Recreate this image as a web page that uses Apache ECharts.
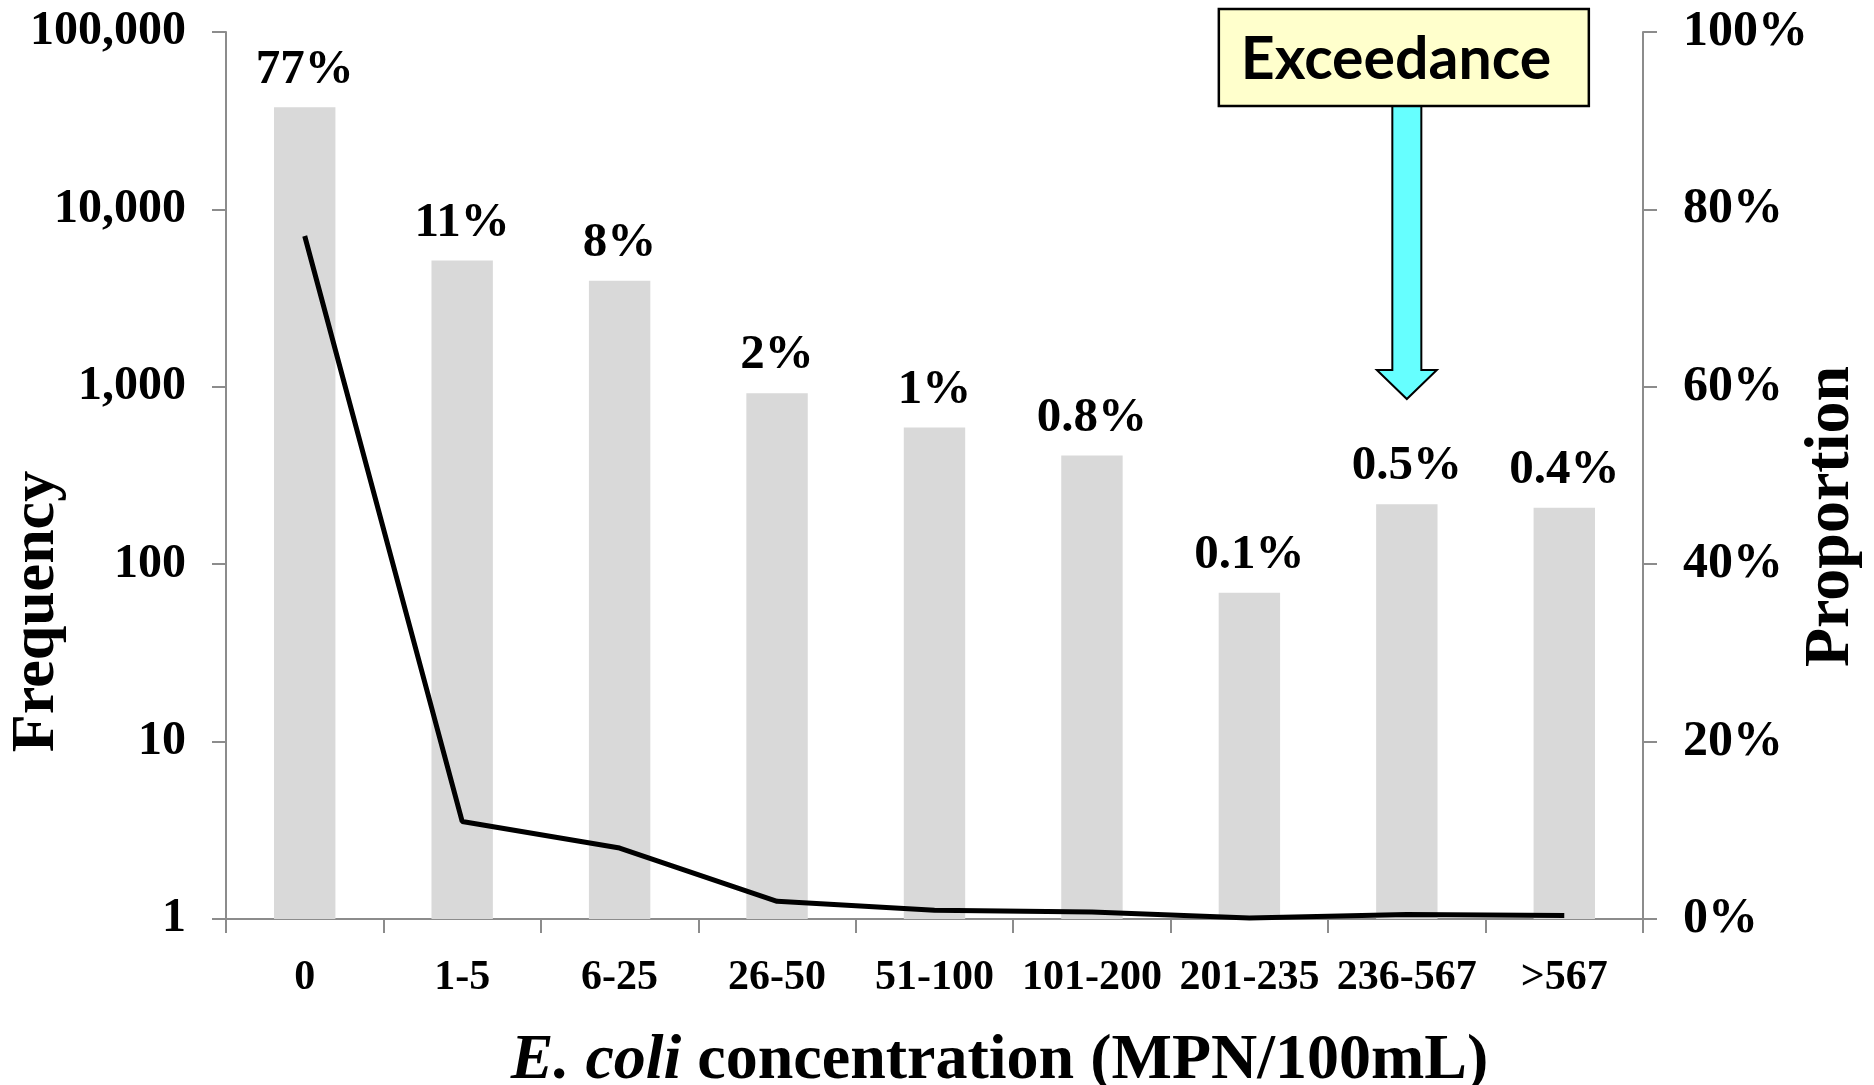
<!DOCTYPE html>
<html>
<head>
<meta charset="utf-8">
<script src="https://cdn.jsdelivr.net/npm/echarts@6/dist/echarts.min.js"></script>
<style>
html,body{margin:0;padding:0;background:#fff;}
#chart{width:1874px;height:1085px;}
</style>
</head>
<body>
<div id="chart"></div>
<script>
const categories = ['0', '1-5', '6-25', '26-50', '51-100', '101-200', '201-235', '236-567', '>567'];
const frequency = [37600, 5160, 3960, 920, 590, 410, 69, 218, 208];
const proportion = [77, 11, 8, 2, 1, 0.8, 0.1, 0.5, 0.4];
const proportionLabels = ['77%', '11%', '8%', '2%', '1%', '0.8%', '0.1%', '0.5%', '0.4%'];
const leftTicks = [1, 10, 100, 1000, 10000, 100000];
const rightTicks = [0, 20, 40, 60, 80, 100];
const annotationText = 'Exceedance';
const annotationCategory = '236-567';

const serif = '"Liberation Serif", "Times New Roman", serif';
const axisGray = '#8c8c8c';

const chart = echarts.init(document.getElementById('chart'), null, {renderer: 'canvas'});

chart.setOption({
  animation: false,
  backgroundColor: '#ffffff',
  grid: {left: 226, right: 231, top: 32, bottom: 166, containLabel: false, outerBoundsMode: 'none'},
  xAxis: {
    type: 'category',
    data: categories,
    name: '{i|E. coli} concentration (MPN/100mL)',
    nameLocation: 'middle',
    nameGap: 110,
    nameMoveOverlap: false,
    nameTextStyle: {
      fontFamily: serif, fontWeight: 'bold', fontSize: 64, color: '#000',
      padding: [0, 0, 0, 130],
      rich: {i: {fontFamily: serif, fontWeight: 'bold', fontStyle: 'italic', fontSize: 64, color: '#000'}}
    },
    axisLine: {lineStyle: {color: axisGray, width: 2}},
    axisTick: {show: true, length: 14, lineStyle: {color: axisGray, width: 2}},
    axisLabel: {fontFamily: serif, fontWeight: 'bold', fontSize: 42, color: '#000', margin: 38, interval: 0}
  },
  yAxis: [
    {
      type: 'log',
      logBase: 10,
      min: 1,
      max: 100000,
      name: 'Frequency',
      nameLocation: 'middle',
      nameRotate: 90,
      nameGap: 158,
      nameMoveOverlap: false,
      nameTextStyle: {fontFamily: serif, fontWeight: 'bold', fontSize: 62, color: '#000', padding: [0, 272, 0, 0]},
      axisLine: {show: true, lineStyle: {color: axisGray, width: 2}},
      axisTick: {show: true, length: 14, lineStyle: {color: axisGray, width: 2}},
      splitLine: {show: false},
      axisLabel: {
        fontFamily: serif, fontWeight: 'bold', fontSize: 48, color: '#000', margin: 40,
        formatter: v => leftTicks.includes(Math.round(v)) ? Math.round(v).toLocaleString('en-US') : ''
      }
    },
    {
      type: 'value',
      min: 0,
      max: 100,
      interval: 20,
      name: 'Proportion',
      nameLocation: 'middle',
      nameRotate: 90,
      nameGap: 156,
      nameMoveOverlap: false,
      nameTextStyle: {fontFamily: serif, fontWeight: 'bold', fontSize: 64, color: '#000', padding: [0, 82, 0, 0]},
      position: 'right',
      axisLine: {show: true, lineStyle: {color: axisGray, width: 2}},
      axisTick: {show: true, length: 14, lineStyle: {color: axisGray, width: 2}},
      splitLine: {show: false},
      axisLabel: {
        fontFamily: serif, fontWeight: 'bold', fontSize: 50, color: '#000', margin: 40,
        formatter: v => rightTicks.includes(v) ? v + '%' : ''
      }
    }
  ],
  series: [
    {
      type: 'bar',
      yAxisIndex: 0,
      data: frequency,
      barWidth: '39%',
      itemStyle: {color: '#d9d9d9'},
      label: {
        show: true,
        position: 'top',
        distance: 13,
        fontFamily: serif, fontWeight: 'bold', fontSize: 49, color: '#000',
        formatter: p => proportionLabels[p.dataIndex]
      },
      z: 2
    },
    {
      type: 'line',
      yAxisIndex: 1,
      data: proportion,
      symbol: 'none',
      lineStyle: {color: '#000', width: 5},
      z: 3
    }
  ]
});

const ax = chart.convertToPixel({xAxisIndex: 0}, annotationCategory);
const boxTop = 9, boxH = 97, boxW = 370;
const boxLeft = ax - 188;
const shaftHalf = 14.5, headHalf = 30, headTop = 370, tipY = 399;

chart.setOption({
  graphic: [
    {
      type: 'polygon',
      z: 100,
      shape: {points: [
        [ax - shaftHalf, boxTop + boxH], [ax + shaftHalf, boxTop + boxH],
        [ax + shaftHalf, headTop], [ax + headHalf, headTop],
        [ax, tipY], [ax - headHalf, headTop], [ax - shaftHalf, headTop]
      ]},
      style: {fill: '#66ffff', stroke: '#000', lineWidth: 2}
    },
    {
      type: 'rect',
      z: 101,
      shape: {x: boxLeft, y: boxTop, width: boxW, height: boxH},
      style: {fill: '#ffffcc', stroke: '#000', lineWidth: 2.5}
    },
    {
      type: 'text',
      z: 102,
      x: boxLeft + 22,
      y: boxTop + boxH / 2 + 2,
      style: {
        text: annotationText,
        font: 'bold 59px Lato, "Noto Sans", sans-serif',
        fill: '#000',
        verticalAlign: 'middle',
        align: 'left'
      }
    }
  ]
});
</script>
</body>
</html>
